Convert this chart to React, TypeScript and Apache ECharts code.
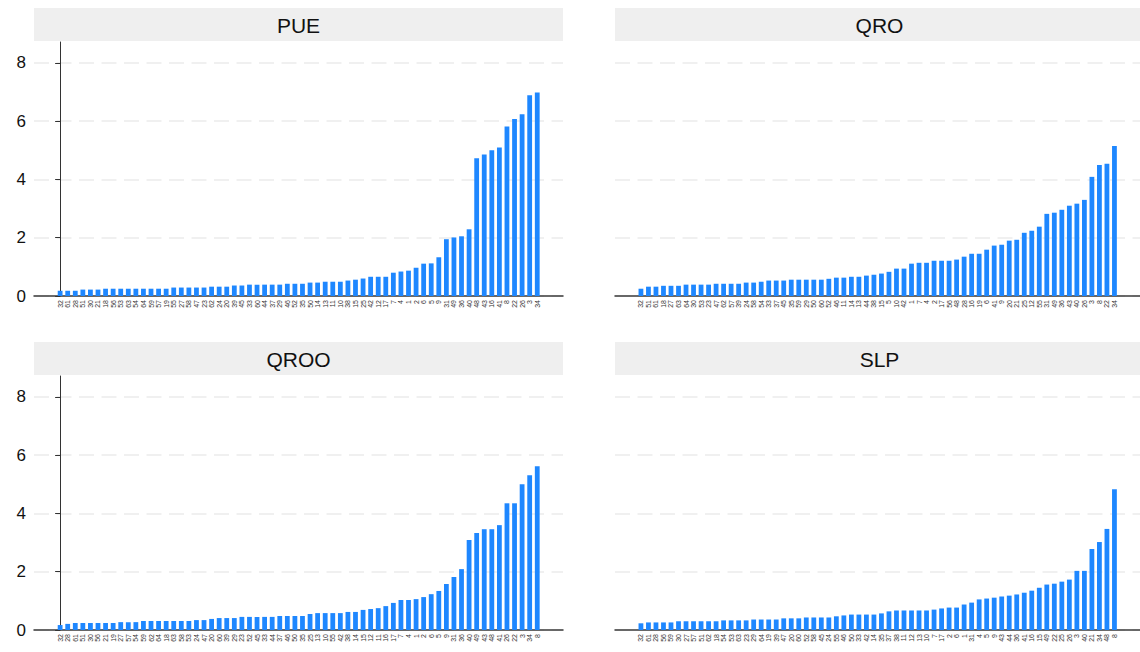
import React, { useEffect, useRef } from "react";
import * as echarts from "echarts";

const PANEL_TITLES = ["PUE", "QRO", "QROO", "SLP"];

const PUE_LABELS = [32,61,28,51,30,21,18,56,53,63,54,64,59,57,19,55,27,58,47,23,62,24,20,39,45,33,60,44,37,29,46,52,35,50,14,13,11,10,38,15,25,42,12,17,7,4,1,2,6,5,9,31,49,36,40,48,43,16,41,8,22,26,3,34];
const PUE_VALUES = [0.18,0.18,0.18,0.22,0.22,0.22,0.25,0.25,0.25,0.25,0.25,0.25,0.25,0.25,0.25,0.29,0.29,0.29,0.29,0.29,0.32,0.32,0.32,0.36,0.36,0.39,0.39,0.39,0.39,0.39,0.42,0.42,0.42,0.46,0.46,0.49,0.49,0.49,0.53,0.56,0.6,0.66,0.66,0.66,0.8,0.84,0.87,0.97,1.11,1.12,1.33,1.95,2.01,2.05,2.29,4.73,4.86,5.0,5.1,5.82,6.08,6.24,6.89,6.99];

const QRO_LABELS = [32,51,61,18,27,63,64,30,53,23,47,62,57,39,24,58,54,33,37,45,35,59,29,50,60,52,46,11,14,13,44,38,15,5,10,42,1,7,4,2,17,56,48,28,16,19,6,41,9,20,21,25,12,55,31,49,36,43,40,26,3,8,22,34];
const QRO_VALUES = [0.25,0.32,0.32,0.35,0.35,0.35,0.39,0.39,0.39,0.39,0.42,0.42,0.42,0.42,0.46,0.46,0.49,0.53,0.53,0.53,0.56,0.56,0.56,0.56,0.56,0.59,0.63,0.63,0.66,0.66,0.7,0.73,0.77,0.83,0.94,0.94,1.11,1.14,1.14,1.21,1.21,1.21,1.25,1.35,1.45,1.45,1.59,1.73,1.76,1.9,1.93,2.17,2.24,2.38,2.82,2.86,2.96,3.1,3.17,3.3,4.09,4.5,4.54,5.15];

const QROO_LABELS = [32,28,61,51,30,56,21,19,27,57,54,59,62,64,18,63,58,53,24,47,20,60,39,29,23,52,45,33,44,37,46,50,35,25,13,10,55,42,38,14,15,12,11,16,17,7,4,1,2,6,5,9,31,36,40,49,43,48,41,26,22,3,34,8];
const QROO_VALUES = [0.17,0.21,0.24,0.24,0.24,0.24,0.24,0.24,0.27,0.27,0.27,0.31,0.31,0.31,0.31,0.31,0.31,0.31,0.34,0.34,0.38,0.41,0.41,0.41,0.45,0.45,0.45,0.45,0.45,0.48,0.48,0.48,0.48,0.55,0.58,0.58,0.58,0.58,0.62,0.62,0.69,0.72,0.75,0.82,0.93,1.03,1.03,1.06,1.13,1.23,1.34,1.58,1.82,2.09,3.09,3.33,3.46,3.46,3.6,4.35,4.35,5.0,5.31,5.62];

const SLP_LABELS = [32,61,28,56,59,30,27,57,51,62,18,54,53,63,23,29,64,19,39,47,20,60,52,58,45,24,55,46,50,33,42,14,35,37,38,11,12,13,10,7,17,2,6,1,31,4,5,9,43,44,36,41,16,15,49,22,25,26,3,40,21,34,48,8];
const SLP_VALUES = [0.23,0.26,0.26,0.26,0.26,0.3,0.3,0.3,0.3,0.3,0.3,0.33,0.33,0.33,0.33,0.36,0.36,0.36,0.36,0.4,0.4,0.4,0.43,0.43,0.43,0.43,0.47,0.5,0.53,0.53,0.53,0.53,0.57,0.64,0.67,0.67,0.67,0.67,0.67,0.7,0.74,0.77,0.77,0.875,0.94,1.05,1.08,1.11,1.15,1.18,1.22,1.28,1.35,1.45,1.56,1.59,1.66,1.73,2.03,2.03,2.78,3.02,3.47,4.83];

const Y_TICKS = [0, 2, 4, 6, 8];

const PANEL_LABELS = [PUE_LABELS, QRO_LABELS, QROO_LABELS, SLP_LABELS];
const PANEL_VALUES = [PUE_VALUES, QRO_VALUES, QROO_VALUES, SLP_VALUES];

const FONT = "Liberation Sans, Arial, Helvetica, sans-serif";

export default function App() {
  const ref = useRef<HTMLDivElement>(null);
  useEffect(() => {
    if (!ref.current) return;
    const chart = echarts.init(ref.current, undefined, { renderer: "svg" });
    const lefts = [34, 615, 34, 615];
    const tops = [42, 42, 376, 376];
    const W = 529;
    const H = 254;
    const grids = lefts.map((l, i) => ({ left: l, top: tops[i], width: W, height: H }));
    const xAxes = PANEL_LABELS.map((labels, i) => ({
      type: "value",
      gridIndex: i,
      min: -3.45,
      max: 66.4,
      splitLine: { show: false },
      axisTick: { show: false, customValues: labels.map((_, k) => k) },
      axisLine: { show: true, onZero: false, lineStyle: { color: "#3a3a3a", width: 1.5 } },
      axisLabel: {
        customValues: labels.map((_, k) => k),
        rotate: 90,
        fontSize: 7,
        margin: 4,
        color: "#333",
        fontFamily: FONT,
        formatter: (v: number) => String(labels[Math.round(v)] ?? ""),
      },
    }));
    const yAxes = PANEL_LABELS.map((_, i) => {
      const left = i % 2 === 0;
      return {
        type: "value",
        gridIndex: i,
        min: 0,
        max: 8.72,
        axisLine: { show: left, lineStyle: { color: "#333", width: 1 } },
        axisTick: { show: left, length: 5, customValues: Y_TICKS, lineStyle: { color: "#333" } },
        axisLabel: {
          show: left,
          customValues: Y_TICKS,
          fontSize: 17,
          margin: 8,
          color: "#111",
          fontFamily: FONT,
        },
        splitLine: {
          show: true,
          lineStyle: { color: "#ebebeb", width: 1.5, type: [15, 7.5] },
        },
      };
    });
    const series = PANEL_VALUES.map((vals, i) => ({
      type: "bar",
      xAxisIndex: i,
      yAxisIndex: i,
      barWidth: 4.8,
      itemStyle: { color: "#1E87FF" },
      data: vals.map((v, k) => [k, v]),
    }));
    const graphics: any[] = [];
    PANEL_TITLES.forEach((t, i) => {
      const x = lefts[i];
      const y = tops[i] - 34;
      graphics.push({
        type: "rect",
        shape: { x, y, width: W, height: 33 },
        style: { fill: "#efefef" },
        silent: true,
      });
      graphics.push({
        type: "text",
        x: x + W / 2,
        y: y + 17,
        style: {
          text: t,
          fill: "#111",
          font: `21px ${FONT}`,
          textAlign: "center",
          textVerticalAlign: "middle",
        },
        silent: true,
      });
    });
    chart.setOption({
      animation: false,
      backgroundColor: "#ffffff",
      grid: grids,
      xAxis: xAxes,
      yAxis: yAxes,
      series,
      graphic: graphics,
    });
    return () => chart.dispose();
  }, []);
  return (
    <div
      ref={ref}
      style={{ position: "absolute", left: 0, top: 0, width: 1140, height: 652, background: "#fff" }}
    />
  );
}
